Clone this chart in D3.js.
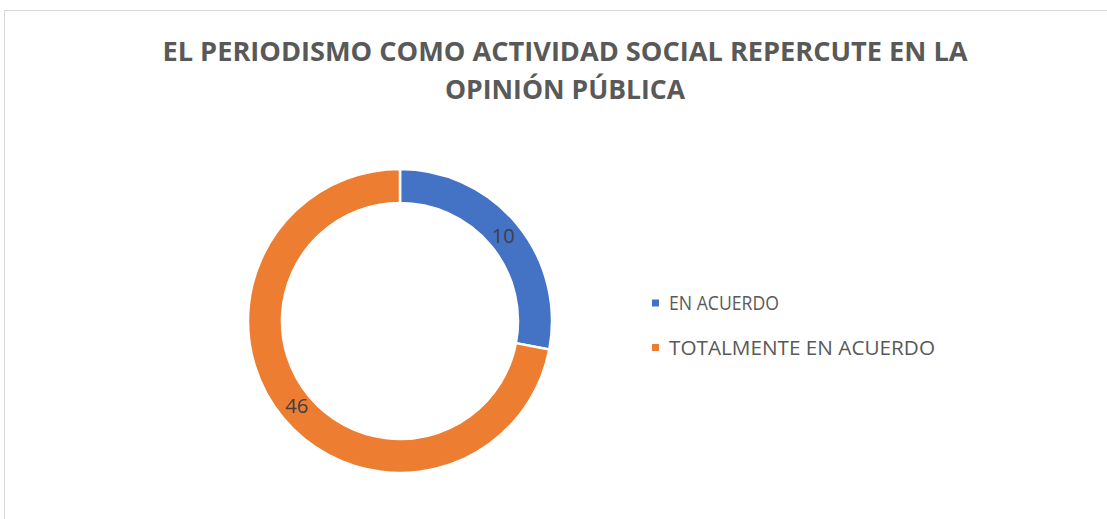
<!DOCTYPE html>
<html><head><meta charset="utf-8">
<script src="https://cdn.jsdelivr.net/npm/d3@7"></script>
<style>body{margin:0;background:#fff}svg{display:block}</style>
</head><body>
<script>
const categories = ["EN ACUERDO", "TOTALMENTE EN ACUERDO"];
// data labels as printed on the chart
const values = [10, 46];
// slice shares (%) as drawn in the reference picture
const sliceShares = [28, 72];
const colors = ["#4472C4", "#ED7D31"];
const titleLines = ["EL PERIODISMO COMO ACTIVIDAD SOCIAL REPERCUTE EN LA", "OPINIÓN PÚBLICA"];

const W = 1107, H = 519;
const svg = d3.select("body").append("svg").attr("width", W).attr("height", H);
const font = "'Open Sans', 'Liberation Sans', sans-serif";

// border
svg.append("rect").attr("x", 4.5).attr("y", 10.5).attr("width", 1130).attr("height", 520)
  .attr("fill", "#fff").attr("stroke", "#d9d9d9").attr("stroke-width", 1);

// title
const titleW = [805, 240];
svg.selectAll("text.title").data(titleLines).enter().append("text")
  .attr("class", "title")
  .attr("x", 565).attr("y", (d, i) => 61 + i * 38)
  .attr("text-anchor", "middle")
  .attr("font-family", font).attr("font-weight", "bold").attr("font-size", 26.5)
  .attr("fill", "#595959")
  .attr("textLength", (d, i) => titleW[i]).attr("lengthAdjust", "spacingAndGlyphs")
  .text(d => d);

// donut
const cx = 400, cy = 321, rOuter = 152, rInner = 118;
const pie = d3.pie().sort(null).value(d => d)(sliceShares);
const arc = d3.arc().innerRadius(rInner).outerRadius(rOuter);
const g = svg.append("g").attr("transform", `translate(${cx},${cy})`);
g.selectAll("path").data(pie).enter().append("path")
  .attr("d", arc).attr("fill", (d, i) => colors[i])
  .attr("stroke", "#fff").attr("stroke-width", 2.5);

const labelArc = d3.arc().innerRadius(134).outerRadius(134);
g.selectAll("text.lbl").data(pie).enter().append("text")
  .attr("class", "lbl")
  .attr("transform", d => `translate(${labelArc.centroid(d)})`)
  .attr("text-anchor", "middle").attr("dy", "0.36em")
  .attr("font-family", font).attr("font-size", 19.5).attr("fill", "#404040")
  .attr("textLength", 23).attr("lengthAdjust", "spacingAndGlyphs")
  .text((d, i) => values[i]);

// legend
const legW = [110, 266];
const items = svg.append("g").selectAll("g").data(categories).enter().append("g")
  .attr("transform", (d, i) => `translate(652,${303 + i * 44.5})`);
items.append("rect").attr("x", 0).attr("y", -3.5).attr("width", 7).attr("height", 7)
  .attr("fill", (d, i) => colors[i]);
items.append("text").attr("x", 17).attr("y", 7)
  .attr("font-family", font).attr("font-size", 19.5).attr("fill", "#595959")
  .attr("textLength", (d, i) => legW[i]).attr("lengthAdjust", "spacingAndGlyphs")
  .text(d => d);
</script>
</body></html>
